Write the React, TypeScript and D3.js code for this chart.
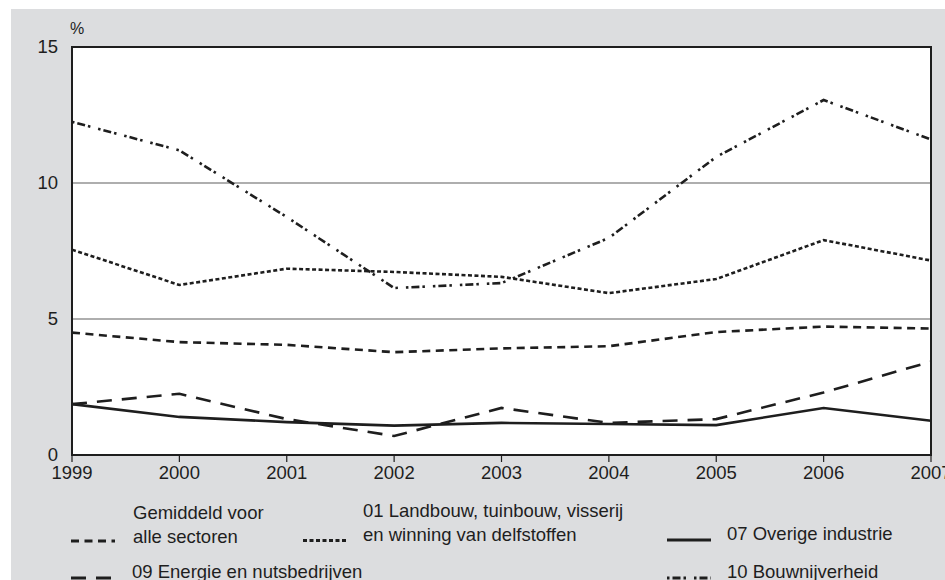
import React from "react";
import * as d3 from "d3";

const years = [1999, 2000, 2001, 2002, 2003, 2004, 2005, 2006, 2007];
const gemiddeld = [4.5, 4.15, 4.05, 3.78, 3.92, 4.0, 4.52, 4.72, 4.65];
const landbouw = [7.55, 6.25, 6.85, 6.73, 6.55, 5.95, 6.47, 7.9, 7.15];
const overige = [1.87, 1.4, 1.21, 1.08, 1.18, 1.14, 1.1, 1.73, 1.26];
const energie = [1.87, 2.25, 1.32, 0.7, 1.73, 1.18, 1.32, 2.3, 3.43];
const bouw = [12.25, 11.2, 8.75, 6.14, 6.32, 7.98, 10.96, 13.05, 11.6];
const yTicks = [0, 5, 10, 15];
const unitLabel = "%";

const seriesNames = [
  ["Gemiddeld voor", "alle sectoren"],
  ["01 Landbouw, tuinbouw, visserij", "en winning van delfstoffen"],
  ["07 Overige industrie"],
  ["09 Energie en nutsbedrijven"],
  ["10 Bouwnijverheid"],
];

const W = 945;
const H = 580;
const M = { left: 72, right: 931, top: 47, bottom: 455 };
const FONT = "'Liberation Sans', Arial, Helvetica, sans-serif";
const INK = "#1e1e1e";

const dashes = ["8,5.5", "4,2.5", "", "15,10", "2.5,3,8,3,2.5,8"];
const seriesData = [gemiddeld, landbouw, overige, energie, bouw];

// legend layout: [swatchX, textX, textY(first line center), swatchY]
const legendPos = [
  [71, 133, 513, 541],
  [303, 363, 511, 540.5],
  [667, 727, 534, 540],
  [71, 132, 572, 578],
  [667, 727, 572, 578],
];

export default function App() {
  const x = d3.scaleLinear().domain([1999, 2007]).range([M.left, M.right]);
  const y = d3.scaleLinear().domain([0, 15]).range([M.bottom, M.top]);
  const line = d3
    .line<number>()
    .x((_, i) => x(years[i]))
    .y((d) => y(d));

  return (
    <svg
      width={W}
      height={H}
      style={{ position: "fixed", left: 0, top: 0, display: "block" }}
      fontFamily={FONT}
    >
      <rect x={0} y={0} width={W} height={H} fill="#ffffff" />
      <rect x={11} y={9} width={W - 11} height={H - 9} fill="#dcdddf" />
      <rect
        x={M.left}
        y={M.top}
        width={M.right - M.left}
        height={M.bottom - M.top}
        fill="#ffffff"
      />
      {yTicks
        .filter((t) => t !== 0 && t !== 15)
        .map((t) => (
          <line
            key={t}
            x1={M.left}
            x2={M.right}
            y1={y(t)}
            y2={y(t)}
            stroke="#5e5e5e"
            strokeWidth={1.2}
          />
        ))}
      {seriesData.map((s, i) => (
        <path
          key={i}
          d={line(s) || ""}
          fill="none"
          stroke={INK}
          strokeWidth={2.6}
          strokeDasharray={dashes[i] || undefined}
          strokeLinejoin="miter"
        />
      ))}
      <rect
        x={M.left}
        y={M.top}
        width={M.right - M.left}
        height={M.bottom - M.top}
        fill="none"
        stroke={INK}
        strokeWidth={2}
      />
      {years.map((yr) => (
        <g key={yr}>
          <line
            x1={x(yr)}
            x2={x(yr)}
            y1={M.bottom}
            y2={M.bottom + 7}
            stroke={INK}
            strokeWidth={1.2}
          />
          <text
            x={x(yr)}
            y={473}
            dy="0.35em"
            textAnchor="middle"
            fontSize={18.5}
            fill={INK}
          >
            {yr}
          </text>
        </g>
      ))}
      {yTicks.map((t) => (
        <text
          key={t}
          x={58}
          y={y(t)}
          dy="0.35em"
          textAnchor="end"
          fontSize={18.5}
          fill={INK}
        >
          {t}
        </text>
      ))}
      <text x={70} y={28} dy="0.35em" fontSize={16} fill={INK}>
        {unitLabel}
      </text>
      {seriesNames.map((lines, i) => {
        const [sx, tx, ty, sy] = legendPos[i];
        return (
          <g key={i}>
            <line
              x1={sx}
              x2={sx + 44}
              y1={sy}
              y2={sy}
              stroke={INK}
              strokeWidth={3}
              strokeDasharray={dashes[i] || undefined}
            />
            {lines.map((l, j) => (
              <text
                key={j}
                x={tx}
                y={ty + j * 24}
                dy="0.35em"
                fontSize={18.5}
                fill={INK}
              >
                {l}
              </text>
            ))}
          </g>
        );
      })}
    </svg>
  );
}
